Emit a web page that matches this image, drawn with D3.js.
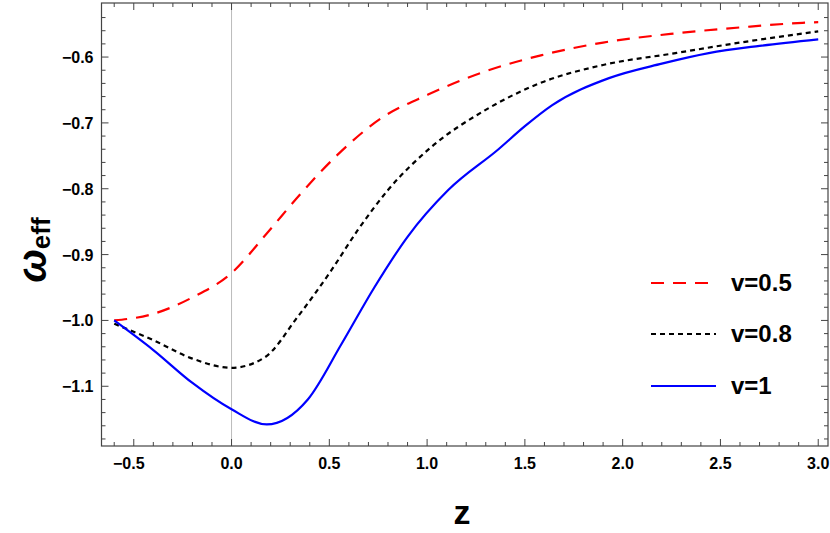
<!DOCTYPE html><html><head><meta charset="utf-8"><script src="https://cdn.jsdelivr.net/npm/d3@7"></script>
<style>body{margin:0;background:#fff}text{font-family:"Liberation Sans",Arial,sans-serif;font-weight:bold}</style></head><body><svg id="c" width="830" height="533"></svg><script>
const zRed=[-0.6,-0.4,-0.2,0,0.18,0.355,0.54,0.765,1.005,1.295,1.587,1.9,2.27,2.6,2.92,3.0];
const wRed=[-1.0,-0.99,-0.965,-0.928,-0.868,-0.807,-0.749,-0.693,-0.657,-0.622,-0.597,-0.578,-0.564,-0.555,-0.548,-0.547];
const zBlack=[-0.6,-0.4,-0.2,0,0.17,0.337,0.51,0.645,0.8,1.02,1.295,1.6,1.9,2.27,2.6,3.0];
const wBlack=[-1.005,-1.03,-1.058,-1.072,-1.056,-0.995,-0.924,-0.863,-0.802,-0.737,-0.681,-0.637,-0.612,-0.594,-0.578,-0.561];
const zBlue=[-0.6,-0.4,-0.2,0,0.18,0.39,0.56,0.73,0.9,1.108,1.365,1.5,1.64,1.93,2.2,2.44,2.7,3.0];
const wBlue=[-1.0,-1.045,-1.095,-1.135,-1.158,-1.12,-1.037,-0.95,-0.873,-0.802,-0.74,-0.705,-0.673,-0.632,-0.61,-0.594,-0.583,-0.573];
const xTicks=[-0.5,0,0.5,1,1.5,2,2.5,3];
const yTicks=[-1.1,-1.0,-0.9,-0.8,-0.7,-0.6];
const legendLabels=["v=0.5","v=0.8","v=1"];
const svg=d3.select("#c");
const L=101.5,R=828,T=3,B=446;
const x=d3.scaleLinear().domain([-0.665,3.05]).range([L,R]);
const y=d3.scaleLinear().domain([-1.1907,-0.5179]).range([B,T]);
svg.append("line").attr("x1",x(0)).attr("x2",x(0)).attr("y1",T).attr("y2",B).attr("stroke","#bbb").attr("stroke-width",1);
svg.append("rect").attr("x",L).attr("y",T).attr("width",R-L).attr("height",B-T).attr("fill","none").attr("stroke","#444").attr("stroke-width",1.2);
const g=svg.append("g");
const xMinor=d3.range(-0.6,3.05,0.1).map(v=>+v.toFixed(2));
const yMinor=d3.range(-1.18,-0.52,0.02).map(v=>+v.toFixed(3));
xMinor.forEach(v=>{const maj=xTicks.some(t=>Math.abs(t-v)<1e-6);const l=maj?7:4;
 g.append("line").attr("x1",x(v)).attr("x2",x(v)).attr("y1",B).attr("y2",B-l).attr("stroke","#444");
 g.append("line").attr("x1",x(v)).attr("x2",x(v)).attr("y1",T).attr("y2",T+l).attr("stroke","#444");});
yMinor.forEach(v=>{const maj=yTicks.some(t=>Math.abs(t-v)<1e-6);const l=maj?7:4;
 g.append("line").attr("y1",y(v)).attr("y2",y(v)).attr("x1",L).attr("x2",L+l).attr("stroke","#444");
 g.append("line").attr("y1",y(v)).attr("y2",y(v)).attr("x1",R).attr("x2",R-l).attr("stroke","#444");});
const fmt=v=>(v<0?"\u2212":"")+Math.abs(v).toFixed(1);
xTicks.forEach(v=>g.append("text").attr("x",x(v)-(v<0?5:0)).attr("y",B+23).attr("text-anchor","middle").attr("font-size",16).text(fmt(v)));
yTicks.forEach(v=>g.append("text").attr("x",L-8).attr("y",y(v)+6).attr("text-anchor","end").attr("font-size",16).text(fmt(v)));
svg.append("text").attr("x",462).attr("y",524).attr("text-anchor","middle").attr("font-size",34).text("z");
const yl=svg.append("text").attr("transform","translate(46,250) rotate(-90)").attr("text-anchor","middle");
yl.append("tspan").attr("font-size",40).attr("font-style","italic").text("\u03c9");
yl.append("tspan").attr("font-size",26).attr("dy",4).text("eff");
const series=[[zRed,wRed,"#f00","13,9",2.2],[zBlack,wBlack,"#000","5,4",2.2],[zBlue,wBlue,"#00f",null,2.2]];
const line=d3.line().x(d=>x(d[0])).y(d=>y(d[1])).curve(d3.curveMonotoneX);
series.forEach(([zs,ws,c,da,w],i)=>{
 const p=svg.append("path").attr("d",line(zs.map((z,j)=>[z,ws[j]]))).attr("fill","none").attr("stroke",c).attr("stroke-width",w);
 if(da)p.attr("stroke-dasharray",da);
 const ly=[283,334,386][i];
 const q=svg.append("line").attr("x1",651).attr("x2",716).attr("y1",ly).attr("y2",ly).attr("stroke",c).attr("stroke-width",w);
 if(da)q.attr("stroke-dasharray",da);
 svg.append("text").attr("x",731).attr("y",ly+8).attr("font-size",24).text(legendLabels[i]);
});
</script></body></html>
